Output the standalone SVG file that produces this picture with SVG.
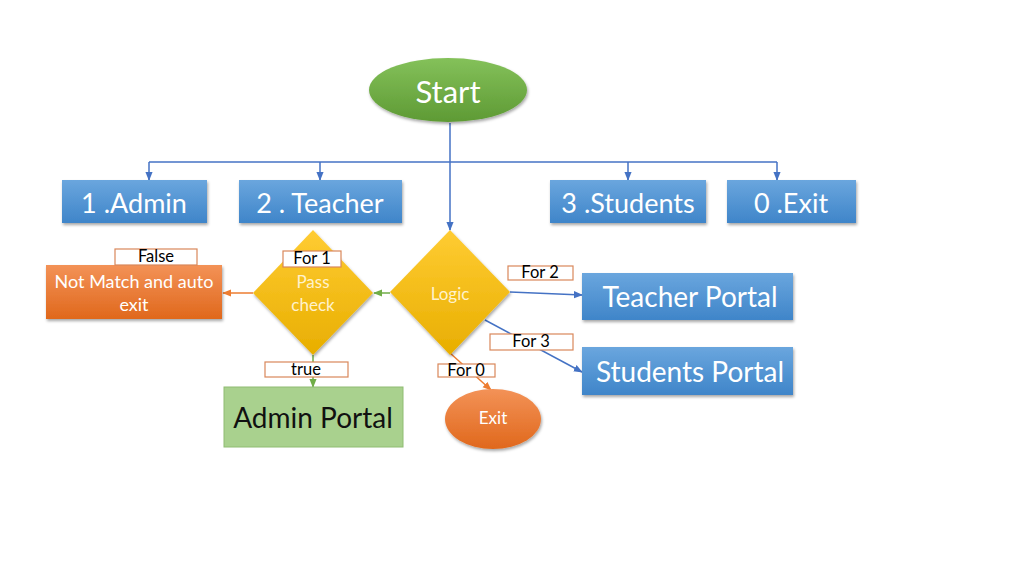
<svg xmlns="http://www.w3.org/2000/svg" width="1024" height="576" viewBox="0 0 1024 576">
<defs>
<linearGradient id="gBlue" x1="0" y1="0" x2="0" y2="1"><stop offset="0" stop-color="#6aa6de"/><stop offset="1" stop-color="#3f85c9"/></linearGradient>
<linearGradient id="gGreen" x1="0" y1="0" x2="0" y2="1"><stop offset="0" stop-color="#84c15a"/><stop offset="1" stop-color="#5e9a34"/></linearGradient>
<linearGradient id="gYellow" x1="0" y1="0" x2="0" y2="1"><stop offset="0" stop-color="#ffcc33"/><stop offset="1" stop-color="#e8ae00"/></linearGradient>
<linearGradient id="gOrange" x1="0" y1="0" x2="0" y2="1"><stop offset="0" stop-color="#f39257"/><stop offset="1" stop-color="#e0681c"/></linearGradient>
<filter id="sh" x="-10%" y="-10%" width="130%" height="140%"><feDropShadow dx="1" dy="2" stdDeviation="1.5" flood-color="#000" flood-opacity="0.35"/></filter>
<marker id="aB" viewBox="0 0 10 10" refX="9" refY="5" markerWidth="6" markerHeight="6" orient="auto"><path d="M0,1 L10,5 L0,9 z" fill="#4472c4"/></marker>
<marker id="aG" viewBox="0 0 10 10" refX="9" refY="5" markerWidth="6" markerHeight="6" orient="auto"><path d="M0,1 L10,5 L0,9 z" fill="#70ad47"/></marker>
<marker id="aO" viewBox="0 0 10 10" refX="9" refY="5" markerWidth="6" markerHeight="6" orient="auto"><path d="M0,1 L10,5 L0,9 z" fill="#ed7d31"/></marker>
</defs>
<style>
text{font-family:Lato,"Open Sans","Liberation Sans",sans-serif;text-anchor:middle;dominant-baseline:central}
.box{fill:url(#gBlue);filter:url(#sh)}
.wt{fill:#ffffff}
.lbl{fill:#ffffff;stroke:#d9875a;stroke-width:1.2}
.lt{fill:#000;font-size:16.5px}
.cB{stroke:#4472c4;stroke-width:1.5;fill:none}
.cG{stroke:#70ad47;stroke-width:1.5;fill:none}
.cO{stroke:#ed7d31;stroke-width:1.5;fill:none}
</style>
<rect width="1024" height="576" fill="#ffffff"/>
<g id="connectors">
<path class="cB" d="M450,123 V162"/>
<path class="cB" d="M149,162 H777"/>
<path class="cB" d="M149,162 V180" marker-end="url(#aB)"/>
<path class="cB" d="M320,162 V180" marker-end="url(#aB)"/>
<path class="cB" d="M628,162 V180" marker-end="url(#aB)"/>
<path class="cB" d="M777,162 V180" marker-end="url(#aB)"/>
<path class="cB" d="M450,162 V230" marker-end="url(#aB)"/>
<path class="cG" d="M390,293 H374" marker-end="url(#aG)"/>
<path class="cO" d="M253,293 H223" marker-end="url(#aO)"/>
<path class="cG" d="M313,355 V387" marker-end="url(#aG)"/>
<path class="cB" d="M510,292 L582,295" marker-end="url(#aB)"/>
<path class="cB" d="M485,320 L582,372" marker-end="url(#aB)"/>
<path class="cO" d="M450,353 L491,390" marker-end="url(#aO)"/>
</g>
<g id="start"><ellipse cx="448" cy="90" rx="79" ry="32" fill="url(#gGreen)" filter="url(#sh)"/><text x="448" y="91" class="wt" font-size="31">Start</text></g>
<g id="admin"><rect class="box" x="62" y="180" width="145" height="43"/><text x="134" y="202" class="wt" font-size="27">1 .Admin</text></g>
<g id="teacher"><rect class="box" x="239" y="180" width="163" height="43"/><text x="320" y="202" class="wt" font-size="27">2 . Teacher</text></g>
<g id="students"><rect class="box" x="550" y="180" width="156" height="43"/><text x="628" y="202" class="wt" font-size="27">3 .Students</text></g>
<g id="exitopt"><rect class="box" x="727" y="180" width="129" height="43"/><text x="791" y="202" class="wt" font-size="27">0 .Exit</text></g>
<g id="logic"><path d="M450,230 L510,292 L450,355 L390,292 z" fill="url(#gYellow)" filter="url(#sh)"/><text x="450" y="293" fill="#fff2cc" font-size="17">Logic</text></g>
<g id="passcheck"><path d="M313,230 L373,293 L313,355 L253,293 z" fill="url(#gYellow)" filter="url(#sh)"/><text x="313" y="281" fill="#fff2cc" font-size="17">Pass</text><text x="313" y="304" fill="#fff2cc" font-size="17">check</text></g>
<g id="notmatch"><rect x="46" y="265" width="176" height="54" fill="url(#gOrange)" filter="url(#sh)"/><text x="134" y="281" class="wt" font-size="18">Not Match and auto</text><text x="134" y="304" class="wt" font-size="18">exit</text></g>
<g id="adminportal"><rect x="224" y="387" width="179" height="60" fill="#a9d18e" stroke="#8fbc72" stroke-width="1"/><text x="313" y="417" fill="#111" font-size="28">Admin Portal</text></g>
<g id="exit"><ellipse cx="493" cy="419" rx="48" ry="30" fill="url(#gOrange)" filter="url(#sh)"/><text x="493" y="417" class="wt" font-size="17">Exit</text></g>
<g id="teacherportal"><rect class="box" x="582" y="273" width="211" height="47"/><text x="690" y="296" class="wt" font-size="28">Teacher Portal</text></g>
<g id="studentsportal"><rect class="box" x="582" y="347" width="211" height="48"/><text x="690" y="371" class="wt" font-size="28">Students Portal</text></g>
<g id="labels">
<g id="lFalse"><rect class="lbl" x="115" y="249" width="82" height="16"/><text x="156" y="256" class="lt">False</text></g>
<g id="lFor1"><rect class="lbl" x="283" y="251" width="58" height="16"/><text x="312" y="258" class="lt">For 1</text></g>
<g id="lTrue"><rect class="lbl" x="265" y="362" width="83" height="15"/><text x="306" y="369" class="lt">true</text></g>
<g id="lFor2"><rect class="lbl" x="508" y="266" width="65" height="14"/><text x="540" y="272" class="lt">For 2</text></g>
<g id="lFor3"><rect class="lbl" x="490" y="334" width="83" height="16"/><text x="531" y="341" class="lt">For 3</text></g>
<g id="lFor0"><rect class="lbl" x="438" y="364" width="57" height="13"/><text x="466" y="370" class="lt">For 0</text></g>
</g>
</svg>
